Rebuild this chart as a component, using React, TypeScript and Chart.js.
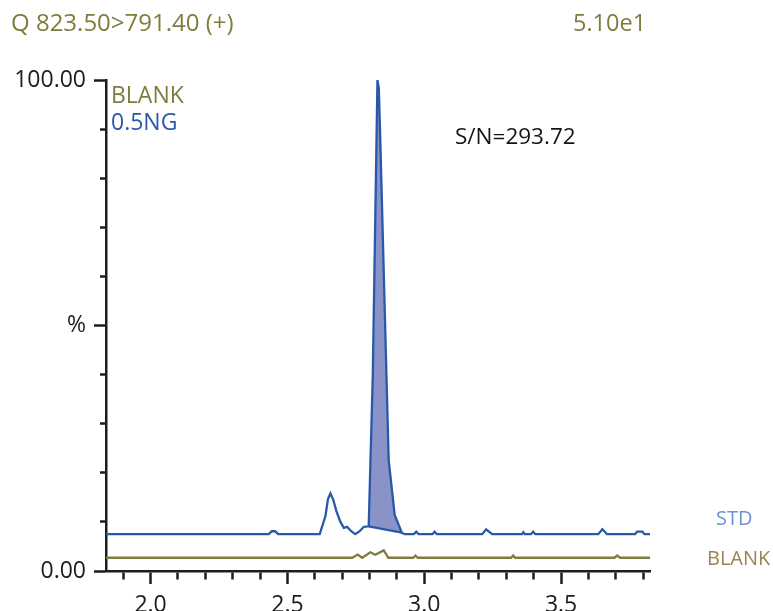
import React, { useEffect, useRef } from "react";
import { Chart, registerables } from "chart.js";

Chart.register(...registerables);

// ---- data (retention time in min, intensity in %) ----
const STD_TIME = [
  1.837, 2.432, 2.443, 2.455, 2.466, 2.618, 2.639, 2.648, 2.657, 2.667, 2.679, 2.693,
  2.706, 2.718, 2.733, 2.748, 2.764, 2.779, 2.797, 2.812, 2.829, 2.834, 2.839, 2.870,
  2.892, 2.918, 2.928, 2.962, 2.971, 2.979, 3.030, 3.038, 3.046, 3.212, 3.226, 3.248,
  3.357, 3.362, 3.367, 3.390, 3.398, 3.406, 3.636, 3.651, 3.668, 3.770, 3.778, 3.797,
  3.805, 3.825,
];
const STD_INTENSITY = [
  7.5, 7.5, 8.1, 8.1, 7.5, 7.5, 11.2, 14.6, 15.8, 14.6, 12.2, 10.1,
  8.8, 9.0, 8.1, 7.5, 8.1, 9.0, 9.1, 40, 100, 98.3, 88.5, 22.6,
  11.4, 7.8, 7.5, 7.5, 8.0, 7.5, 7.5, 8.0, 7.5, 7.5, 8.5, 7.5,
  7.5, 7.9, 7.5, 7.5, 8.0, 7.5, 7.5, 8.5, 7.5, 7.5, 8.0, 8.0,
  7.5, 7.5,
];

const BLANK_TIME = [
  1.837, 2.737, 2.757, 2.773, 2.803, 2.821, 2.852, 2.869, 2.960, 2.968, 2.976,
  3.318, 3.325, 3.332, 3.695, 3.705, 3.716, 3.825,
];
const BLANK_INTENSITY = [
  2.7, 2.7, 3.35, 2.7, 3.8, 3.3, 4.2, 2.7, 2.7, 3.15, 2.7,
  2.7, 3.15, 2.7, 2.7, 3.15, 2.7, 2.7,
];

// integrated peak: start / end of the drawn baseline
const PEAK_START = 2.797;
const PEAK_END = 2.918;

const X_MIN = 1.837;
const X_MAX = 3.825;
const X_TICKS = [1.9, 2.0, 2.1, 2.2, 2.3, 2.4, 2.5, 2.6, 2.7, 2.8, 2.9, 3.0, 3.1, 3.2, 3.3, 3.4, 3.5, 3.6, 3.7, 3.8];
const X_MAJOR = [2.0, 2.5, 3.0, 3.5];
const Y_TICKS = [0, 10, 20, 30, 40, 50, 60, 70, 80, 90, 100];
const Y_LABEL_VALUES = [0, 50, 100];
const Y_LABEL_TEXTS = ["0.00", "%", "100.00"];

const TITLE = "Q 823.50>791.40 (+)";
const SCALE_TEXT = "5.10e1";
const LEGEND_TEXTS = ["BLANK", "0.5NG"];
const SN_TEXT = "S/N=293.72";
const RIGHT_TEXTS = ["STD", "BLANK"];

// ---- styles ----
const OLIVE = "#7f7d3e";
const BLUE = "#2a58a9";
const FILL = "#8a93c8";
const AXIS = "#1c1c1c";
const FONT = '"Open Sans", sans-serif';

const isMajorX = (v: number) => X_MAJOR.some((m) => Math.abs(m - v) < 1e-6);
const isMajorY = (v: number) => Y_LABEL_VALUES.some((m) => Math.abs(m - v) < 1e-6);

const textPlugin = {
  id: "texts",
  afterDraw(chart: any) {
    const ctx = chart.ctx as CanvasRenderingContext2D;
    ctx.save();
    ctx.textBaseline = "middle";
    ctx.textAlign = "left";
    ctx.font = `24px ${FONT}`;
    ctx.fillStyle = OLIVE;
    ctx.fillText(TITLE, 11, 24);
    ctx.font = `23.5px ${FONT}`;
    ctx.fillText(SCALE_TEXT, 573, 24);
    ctx.font = `23px ${FONT}`;
    ctx.fillText(LEGEND_TEXTS[0], 111, 96);
    ctx.fillStyle = BLUE;
    ctx.fillText(LEGEND_TEXTS[1], 111, 123);
    ctx.font = `22.5px ${FONT}`;
    ctx.fillStyle = "#151515";
    ctx.fillText(SN_TEXT, 455, 138);
    ctx.font = `20px ${FONT}`;
    ctx.fillStyle = "#6b93d6";
    ctx.fillText(RIGHT_TEXTS[0], 716, 519);
    ctx.fillStyle = "#9b8352";
    ctx.fillText(RIGHT_TEXTS[1], 707, 559);
    ctx.restore();
  },
};

export default function App() {
  const ref = useRef<HTMLCanvasElement | null>(null);

  useEffect(() => {
    if (!ref.current) return;
    const std = STD_TIME.map((t, i) => ({ x: t, y: STD_INTENSITY[i] }));
    const blank = BLANK_TIME.map((t, i) => ({ x: t, y: BLANK_INTENSITY[i] }));
    const peak = std.filter((p) => p.x >= PEAK_START - 1e-9 && p.x <= PEAK_END + 1e-9);
    const base = [peak[0], peak[peak.length - 1]];

    const chart = new Chart(ref.current, {
      type: "line",
      data: {
        datasets: [
          {
            label: "STD",
            data: std,
            borderColor: BLUE,
            borderWidth: 2.3,
            pointRadius: 0,
            fill: false,
            tension: 0,
            order: 1,
          },
          {
            label: "BLANK",
            data: blank,
            borderColor: OLIVE,
            borderWidth: 2.3,
            pointRadius: 0,
            fill: false,
            tension: 0,
            order: 2,
          },
          {
            label: "peak area",
            data: peak,
            borderWidth: 0,
            borderColor: "rgba(0,0,0,0)",
            backgroundColor: FILL,
            pointRadius: 0,
            fill: 3,
            tension: 0,
            order: 10,
          },
          {
            label: "baseline",
            data: base,
            borderColor: BLUE,
            borderWidth: 2.3,
            pointRadius: 0,
            fill: false,
            tension: 0,
            order: 5,
          },
        ],
      },
      options: {
        responsive: false,
        animation: false,
        events: [],
        layout: { padding: { left: 0, top: 80, right: 123, bottom: 0 } },
        plugins: { legend: { display: false }, tooltip: { enabled: false } },
        scales: {
          x: {
            type: "linear",
            min: X_MIN,
            max: X_MAX,
            afterBuildTicks: (s: any) => {
              s.ticks = X_TICKS.map((v) => ({ value: v }));
            },
            afterFit: (s: any) => {
              s.height = 40;
            },
            border: { display: true, color: AXIS, width: 2.5 },
            grid: {
              drawOnChartArea: false,
              drawTicks: true,
              tickLength: 13,
              tickWidth: 2.5,
              tickColor: AXIS,
              tickBorderDash: (c: any) => (isMajorX(c.tick.value) ? [] : [7, 30]),
            },
            ticks: {
              autoSkip: false,
              maxRotation: 0,
              padding: 8,
              color: "#1c1c1c",
              font: { family: FONT, size: 23 },
              callback: (v: any) => (isMajorX(Number(v)) ? Number(v).toFixed(1) : ""),
            },
          },
          y: {
            type: "linear",
            min: 0,
            max: 100,
            afterBuildTicks: (s: any) => {
              s.ticks = Y_TICKS.map((v) => ({ value: v }));
            },
            afterFit: (s: any) => {
              s.width = 106;
            },
            border: { display: true, color: AXIS, width: 2.5 },
            grid: {
              drawOnChartArea: false,
              drawTicks: true,
              tickLength: 12,
              tickWidth: 2.5,
              tickColor: AXIS,
              tickBorderDash: (c: any) => (isMajorY(c.tick.value) ? [] : [6, 6]),
              tickBorderDashOffset: (c: any) => (isMajorY(c.tick.value) ? 0 : 6),
            },
            ticks: {
              autoSkip: false,
              padding: 8,
              color: "#1c1c1c",
              font: { family: FONT, size: 23 },
              callback: (v: any) => {
                const idx = Y_LABEL_VALUES.findIndex((m) => Math.abs(m - Number(v)) < 1e-6);
                return idx >= 0 ? Y_LABEL_TEXTS[idx] : "";
              },
            },
          },
        },
      },
      plugins: [textPlugin],
    });
    return () => chart.destroy();
  }, []);

  return (
    <div style={{ position: "fixed", left: 0, top: 0, width: 773, height: 611, background: "#fff" }}>
      <canvas ref={ref} width={773} height={611} style={{ display: "block" }} />
    </div>
  );
}
